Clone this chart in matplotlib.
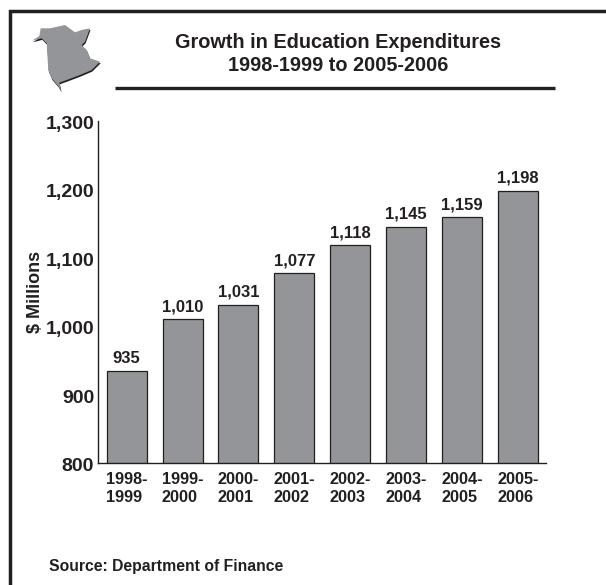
import matplotlib
matplotlib.use("Agg")
import matplotlib.pyplot as plt
from matplotlib.patches import Polygon, Rectangle
from matplotlib.lines import Line2D
from matplotlib.transforms import ScaledTranslation

plt.rcParams['font.family'] = ['Liberation Sans', 'DejaVu Sans']

W, H = 606, 585
INK = '#231f20'
BAR = '#939598'

years = ['1998-\n1999', '1999-\n2000', '2000-\n2001', '2001-\n2002',
         '2002-\n2003', '2003-\n2004', '2004-\n2005', '2005-\n2006']
spending = [935, 1010, 1031, 1077, 1118, 1145, 1159, 1198]
value_labels = ['935', '1,010', '1,031', '1,077', '1,118', '1,145', '1,159', '1,198']
y_ticks = [800, 900, 1000, 1100, 1200, 1300]
y_tick_labels = ['800', '900', '1,000', '1,100', '1,200', '1,300']

fig = plt.figure(figsize=(W / 100, H / 100), dpi=100)


def fx(px):
    return px / W


def fy(py):
    return 1 - py / H


# Page frame, running off the right and bottom of the page
fig.add_artist(Rectangle((fx(10), fy(640)), fx(660), fy(10.7) - fy(640),
                         transform=fig.transFigure, fill=False,
                         edgecolor=INK, linewidth=2.5))

# Plot area
ax = fig.add_axes([fx(98.3), fy(463), fx(447.4), fy(120.7) - fy(463)])
positions = list(range(len(years)))
ax.bar(positions, spending, width=0.716, color=BAR, edgecolor=INK, linewidth=0.9)
ax.set_xlim(-0.508, 7.5)
ax.set_ylim(800, 1300)
for side in ('top', 'right'):
    ax.spines[side].set_visible(False)
for side in ('left', 'bottom'):
    ax.spines[side].set_linewidth(1.0)
    ax.spines[side].set_color(INK)

ax.set_yticks(y_ticks, y_tick_labels, fontsize=14, fontweight='bold', color=INK)
ax.tick_params(axis='y', length=0, pad=3)
# Axis numbers sit slightly below their nominal heights
nudge = ScaledTranslation(0, -1.2 / 72, fig.dpi_scale_trans)
for label in ax.get_yticklabels():
    label.set_transform(label.get_transform() + nudge)

ax.set_xticks(positions, years, fontsize=11.7, fontweight='bold', color=INK, linespacing=1.3)
ax.tick_params(axis='x', length=0, pad=6.2)
for label in ax.get_xticklabels():
    label.set_multialignment('left')

ax.set_ylabel('$ Millions', fontsize=13, fontweight='bold', color=INK)
ax.yaxis.set_label_coords((44 - 98.3) / 447.4, 0.5)

for pos, val, text in zip(positions, spending, value_labels):
    ax.annotate(text, (pos, val), xytext=(0, 3.5), textcoords='offset points',
                ha='center', va='bottom', fontsize=12, fontweight='bold', color=INK)

# Heading and rule
fig.text(fx(338), fy(54), 'Growth in Education Expenditures\n1998-1999 to 2005-2006',
         ha='center', va='center', fontsize=14.3, fontweight='bold', color=INK, linespacing=1.3)
fig.add_artist(Line2D([fx(115), fx(555)], [fy(88), fy(88)], transform=fig.transFigure,
                      color=INK, linewidth=2.4, solid_capstyle='butt'))

fig.text(fx(49), fy(567), 'Source: Department of Finance', ha='left', va='center',
         fontsize=11.3, fontweight='bold', color=INK)

# New Brunswick outline with a dark offset shadow
province = [(32.3, 40.7), (39.3, 36), (40.7, 28.3), (50, 28.3), (65, 25), (75, 32.3), (81.7, 30),
            (90, 28.3), (85, 41.7), (81.7, 45), (86.7, 50), (90, 58.3), (100, 61.7), (91.7, 70),
            (80, 75), (66.7, 80), (59.3, 82.7), (61, 90.7), (58.3, 86), (51.7, 78.3),
            (48.3, 70), (46.7, 43.3), (41.7, 38.3)]
shadow = [(x + 0.6, y + 1.6) for x, y in province]
fig.add_artist(Polygon([(fx(x), fy(y)) for x, y in shadow], closed=True,
                       transform=fig.transFigure, facecolor=INK, edgecolor='none'))
fig.add_artist(Polygon([(fx(x), fy(y)) for x, y in province], closed=True,
                       transform=fig.transFigure, facecolor=BAR, edgecolor='none'))

fig.savefig('out.png', dpi=100)
